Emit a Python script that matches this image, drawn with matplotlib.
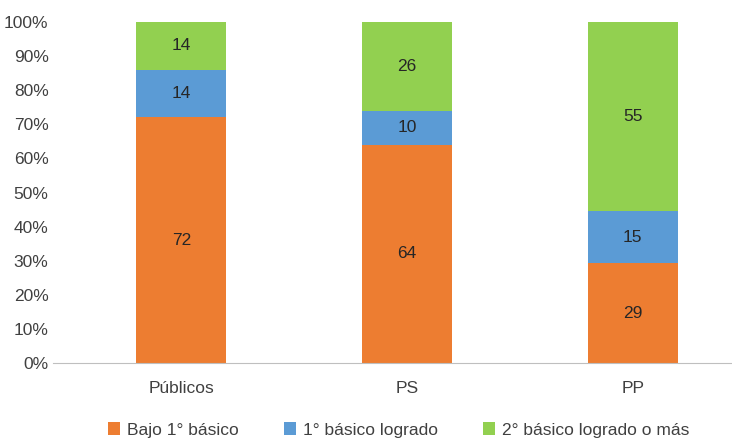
import numpy as np
import matplotlib
matplotlib.use("Agg")
import matplotlib.pyplot as plt

plt.rcParams["font.family"] = ["Liberation Sans", "DejaVu Sans"]

# --------------------------------------------------
# Data
# --------------------------------------------------

categories = ["Públicos", "PS", "PP"]
series_names = ["Bajo 1° básico", "1° básico logrado", "2° básico logrado o más"]
bajo = [72, 64, 29]
logrado_1 = [14, 10, 15]
logrado_2 = [14, 26, 55]
colors = ["#ED7D31", "#5B9BD5", "#92D050"]

values = np.array([bajo, logrado_1, logrado_2], dtype=float)
shares = values / values.sum(axis=0) * 100

# --------------------------------------------------
# Figure
# --------------------------------------------------

fig = plt.figure(figsize=(7.32, 4.40), dpi=100)
ax = fig.add_axes([0.072, 0.175, 0.928, 0.775])

x = np.arange(len(categories))
bottom = np.zeros(len(categories))

for i in range(len(series_names)):
    bars = ax.bar(x, shares[i], 0.4, bottom=bottom, color=colors[i],
                  label=series_names[i], zorder=2)
    for j, b in enumerate(bars):
        ax.text(b.get_x() + b.get_width() / 2, bottom[j] + shares[i][j] / 2,
                f"{values[i][j]:.0f}", ha="center", va="center",
                fontsize=12.5, color="#262626")
    bottom += shares[i]

ax.set_xlim(-0.57, 2.44)
ax.set_ylim(0, 100)
ax.set_yticks(np.arange(0, 101, 10))
ax.set_yticklabels([f"{v}%" for v in range(0, 101, 10)])
ax.set_xticks(x)
ax.set_xticklabels(categories)

for s in ["top", "right", "left"]:
    ax.spines[s].set_visible(False)
ax.spines["bottom"].set_color("#BFBFBF")
ax.tick_params(axis="both", length=0, labelsize=12.5, colors="#404040")
ax.tick_params(axis="x", pad=13)
ax.tick_params(axis="y", pad=3)

fig.legend(loc="lower center", bbox_to_anchor=(0.545, -0.03), ncol=3,
           frameon=False, fontsize=12.5, handlelength=0.7, handleheight=0.7,
           columnspacing=2.6, handletextpad=0.4, labelcolor="#404040")

fig.savefig("out.png", dpi=100)
